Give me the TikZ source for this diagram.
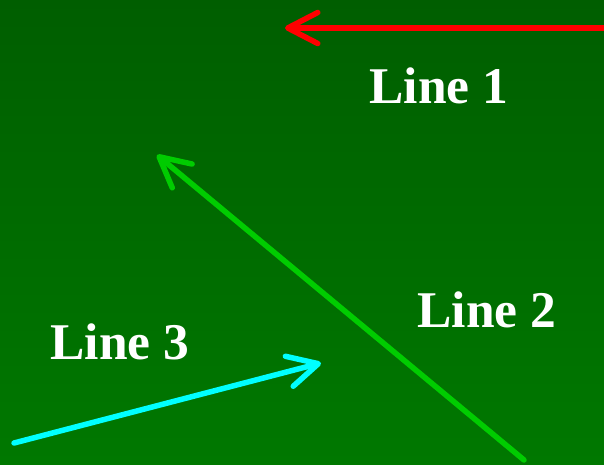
\documentclass[tikz,border=0pt]{standalone}
\usepackage{fontspec}
\setmainfont{Liberation Serif}
\usetikzlibrary{arrows.meta}
\definecolor{bgtop}{RGB}{0,94,0}
\definecolor{bgbot}{RGB}{0,120,0}
\definecolor{lineone}{RGB}{255,0,0}
\definecolor{linetwo}{RGB}{0,204,0}
\definecolor{linethree}{RGB}{0,255,255}

\begin{document}
\begin{tikzpicture}[x=1pt, y=-1pt,
    ray/.style = {line width=5.5pt, line cap=round,
      -{Straight Barb[length=30pt, width=31pt, line cap=round, line join=round]}},
    lbl/.style = {text=white, font=\fontsize{51.5}{56}\selectfont\bfseries, inner sep=0pt}]
	\shade[top color=bgtop, bottom color=bgbot] (0, 0) rectangle (604, 464);
	\useasboundingbox (0, 0) rectangle (604, 464);
	\coordinate (A1) at (606, 28);
	\coordinate (B1) at (285, 28);
	\coordinate (A2) at (524, 460);
	\coordinate (B2) at (157, 155);
	\coordinate (A3) at (14, 443);
	\coordinate (B3) at (321, 363);
	\draw[ray, lineone] (A1) -- (B1);
	\draw[ray, linetwo] (A2) -- (B2);
	\draw[ray, linethree] (A3) -- (B3);
	\node[lbl] (L1) at (439, 86){Line 1};
	\node[lbl] (L2) at (487, 310){Line 2};
	\node[lbl] (L3) at (120, 342){Line 3};
\end{tikzpicture}
\end{document}
